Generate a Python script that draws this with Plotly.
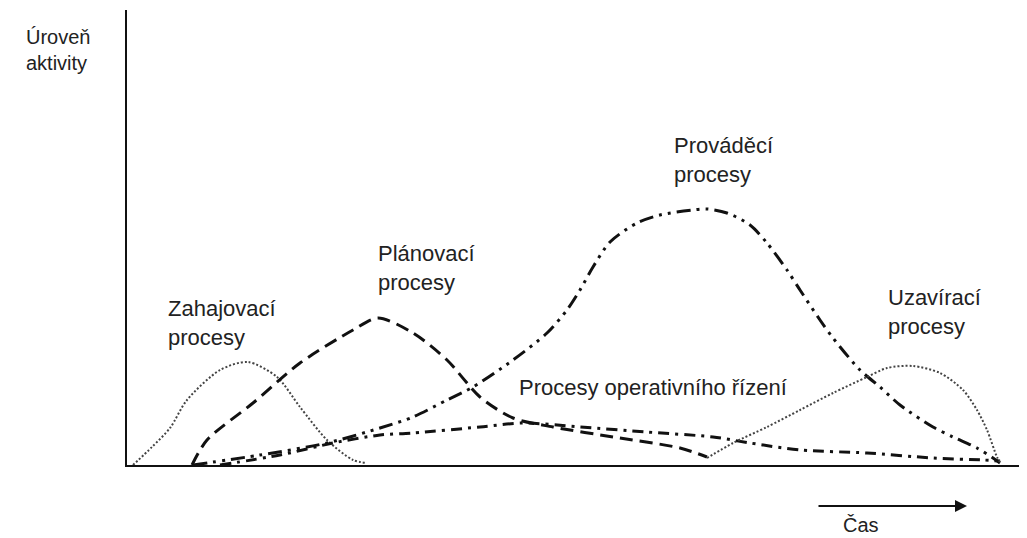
import plotly.graph_objects as go

# Data (time units, activity level)
zah_x = [6, 25, 43, 60, 93, 121, 150, 173, 200, 226, 240]
zah_y = [0, 18, 37, 65, 95, 103, 88, 58, 25, 5, 2]

plan_x = [65, 80, 126, 173, 226, 251, 286, 320, 353, 386, 426, 486, 553, 580]
plan_y = [0, 25, 62, 102, 135, 147, 132, 105, 68, 47, 38, 28, 17, 8]

prov_x = [66, 133, 200, 253, 286, 320, 346, 386, 420, 440, 453, 466, 483, 510, 533, 566, 580,
          600, 623, 640, 660, 673, 693, 706, 733, 753, 773, 806, 826, 850, 866, 873]
prov_y = [0, 10, 22, 37, 48, 65, 78, 105, 132, 155, 175, 198, 223, 242, 250, 255, 256,
          252, 240, 222, 195, 175, 145, 127, 95, 78, 60, 38, 28, 17, 7, 2]

oper_x = [93, 153, 206, 253, 286, 353, 396, 453, 520, 586, 623, 673, 740, 806, 856, 873]
oper_y = [0, 10, 22, 30, 32, 38, 42, 38, 33, 28, 22, 15, 12, 7, 5, 4]

uzav_x = [580, 606, 640, 673, 706, 740, 760, 786, 813, 836, 850, 860, 870, 873]
uzav_y = [7, 22, 38, 55, 72, 88, 97, 99, 92, 75, 55, 35, 8, 3]

labels = ["Zahajovací<br>procesy", "Plánovací<br>procesy", "Prováděcí<br>procesy",
          "Uzavírací<br>procesy", "Procesy operativního řízení"]
y_title = "Úroveň<br>aktivity"
x_title = "Čas"

# label anchor positions in window pixels (layout only)
label_px = [(166, 323), (376, 268), (672, 160), (886, 312), (517, 388)]

FONT = "Liberation Sans, Arial, sans-serif"
TXT = "#222222"
PAGE = 8                      # default body margin of the html page
L, T, W, H = 127, 10, 900, 455  # plot area in window pixels

def px2paper(x, y):
    return (x - L) / W, (T + H - y) / H

fig = go.Figure()

def add(x, y, dash, width, color, smooth=0.8):
    fig.add_trace(go.Scatter(x=x, y=y, mode="lines",
                             line=dict(dash=dash, width=width, color=color,
                                       shape="spline", smoothing=smooth),
                             cliponaxis=False, hoverinfo="skip", showlegend=False))

add(zah_x, zah_y, "2px,2px", 2, "#444444")
add(plan_x, plan_y, "13px,7px", 3, "#111111")
add(prov_x, prov_y, "14px,6px,3px,6px,3px,6px", 3, "#111111")
add(oper_x, oper_y, "11px,6px,3px,6px", 3, "#111111")
add(uzav_x, uzav_y, "2px,2px", 2, "#444444")

for t, (x, y) in zip(labels, label_px):
    px, py = px2paper(x, y)
    fig.add_annotation(x=px, y=py, xref="paper", yref="paper", text=t, showarrow=False,
                       xanchor="left", yanchor="middle", align="left",
                       font=dict(family=FONT, size=22, color=TXT))

px, py = px2paper(24, 50)
fig.add_annotation(x=px, y=py, xref="paper", yref="paper", text=y_title, showarrow=False,
                   xanchor="left", yanchor="middle", align="left",
                   font=dict(family=FONT, size=20, color=TXT))

px, py = px2paper(841, 525)
fig.add_annotation(x=px, y=py, xref="paper", yref="paper", text=x_title, showarrow=False,
                   xanchor="left", yanchor="middle", align="left",
                   font=dict(family=FONT, size=20, color=TXT))

hx, hy = px2paper(967, 506)
fig.add_annotation(x=hx, y=hy, ax=-150, ay=0, xref="paper", yref="paper",
                   axref="pixel", ayref="pixel",
                   text="", showarrow=True, arrowhead=2, arrowsize=1.2, arrowwidth=2,
                   arrowcolor="#111111")

fig.update_layout(
    width=1027 - PAGE, height=538 - PAGE,
    margin=dict(l=L - PAGE, r=0, t=T - PAGE, b=538 - T - H, autoexpand=False),
    paper_bgcolor="white", plot_bgcolor="white",
    xaxis=dict(range=[0, 900], showline=True, linecolor="#111111", linewidth=2,
               showgrid=False, zeroline=False, showticklabels=False, ticks="",
               automargin=False),
    yaxis=dict(range=[0, 455], showline=True, linecolor="#111111", linewidth=2,
               showgrid=False, zeroline=False, showticklabels=False, ticks="",
               automargin=False),
)

fig.write_html("out.html")
